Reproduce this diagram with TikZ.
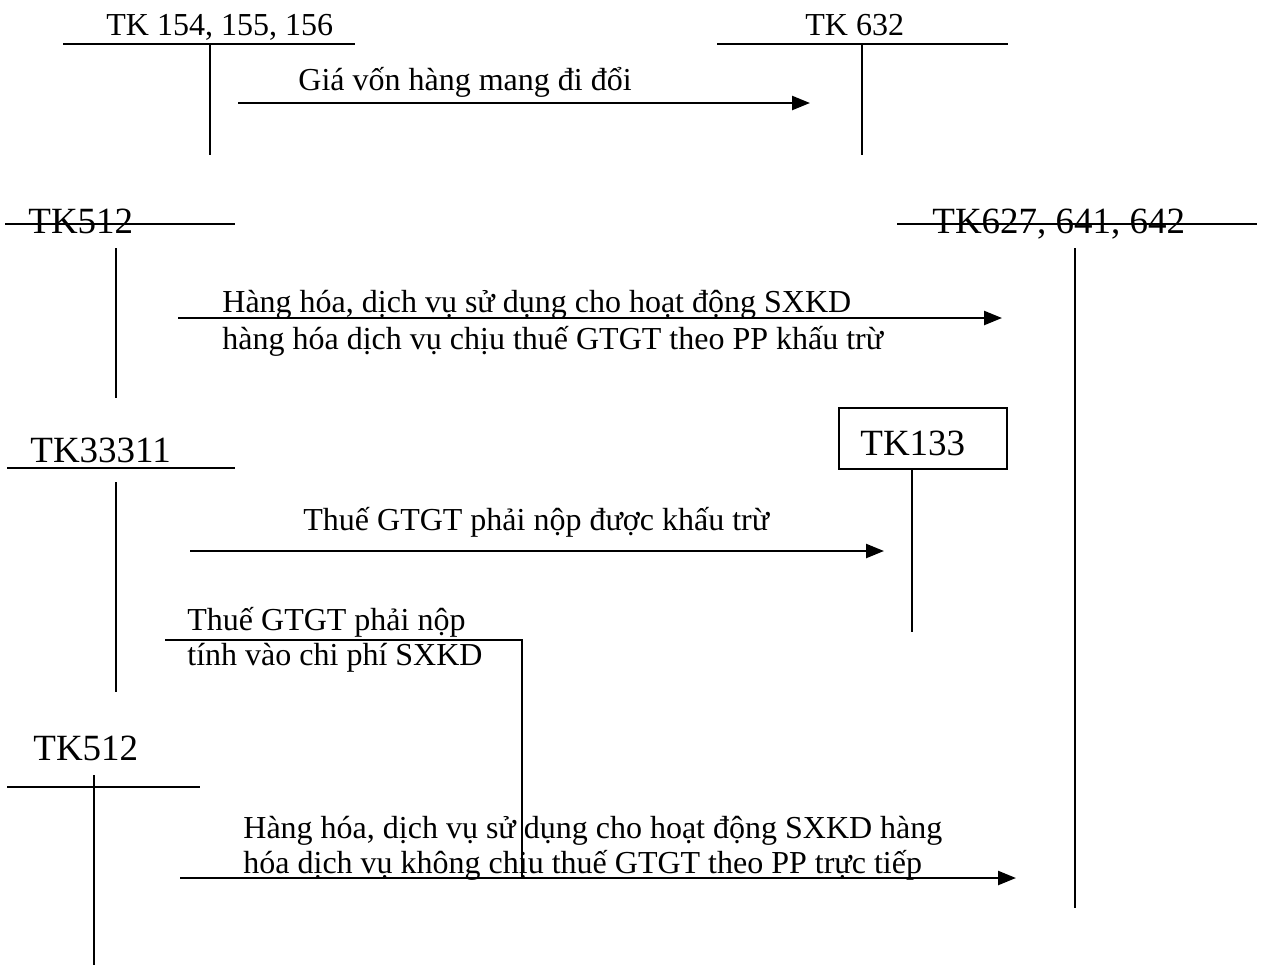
\documentclass[tikz,border=0pt]{standalone}
\usepackage{fontspec}
\setmainfont{Liberation Serif}
\usetikzlibrary{arrows.meta}
\begin{document}
\begin{tikzpicture}[x=0.5pt,y=-0.5pt,
  acc/.style={line width=0.8pt},
  flow/.style={line width=1.2pt,-{Triangle[length=9pt,width=7pt]}},
  plain/.style={line width=1pt},
  lbl/.style={anchor=base west,inner sep=0pt,font=\fontsize{16}{19}\selectfont},
  big/.style={anchor=base west,inner sep=0pt,font=\fontsize{18.5}{22}\selectfont}]
\useasboundingbox (0,0) rectangle (1264,965);

% TK 154,155,156
\node[lbl] (tk154) at (106,35) {TK 154, 155, 156};
\coordinate (a1l) at (63,44); \coordinate (a1r) at (355,44);
\coordinate (a1t) at (210,44); \coordinate (a1b) at (210,155);
\draw[acc] (a1l) -- (a1r); \draw[acc] (a1t) -- (a1b);

% TK 632
\node[lbl] (tk632) at (805,35) {TK 632};
\coordinate (a2l) at (717,44); \coordinate (a2r) at (1008,44);
\coordinate (a2t) at (862,44); \coordinate (a2b) at (862,155);
\draw[acc] (a2l) -- (a2r); \draw[acc] (a2t) -- (a2b);

% arrow 1
\coordinate (f1s) at (238,103); \coordinate (f1e) at (810,103);
\draw[flow] (f1s) -- (f1e);
\node[lbl] (l1) at (298,90) {Giá vốn hàng mang đi đổi};

% TK512 upper
\node[big] (tk512a) at (28,233) {TK512};
\coordinate (a3l) at (5,224); \coordinate (a3r) at (235,224);
\coordinate (a3t) at (116,248); \coordinate (a3b) at (116,398);
\draw[acc] (a3l) -- (a3r); \draw[acc] (a3t) -- (a3b);

% TK627
\node[big] (tk627) at (932,233) {TK627, 641, 642};
\coordinate (a4l) at (897,224); \coordinate (a4r) at (1257,224);
\coordinate (a4t) at (1075,248); \coordinate (a4b) at (1075,908);
\draw[acc] (a4l) -- (a4r); \draw[acc] (a4t) -- (a4b);

% arrow 2
\coordinate (f2s) at (178,318); \coordinate (f2e) at (1002,318);
\draw[flow] (f2s) -- (f2e);
\node[lbl] (l2a) at (222,312) {Hàng hóa, dịch vụ sử dụng cho hoạt động SXKD};
\node[lbl] (l2b) at (222,349) {hàng hóa dịch vụ chịu thuế GTGT theo PP khấu trừ};

% TK33311
\node[big] (tk333) at (30,462) {TK33311};
\coordinate (a5l) at (7,468); \coordinate (a5r) at (235,468);
\coordinate (a5t) at (116,482); \coordinate (a5b) at (116,692);
\draw[acc] (a5l) -- (a5r); \draw[acc] (a5t) -- (a5b);

% TK133
\node[draw,line width=0.8pt,minimum width=84pt,minimum height=30.5pt,inner sep=0pt] (box133) at (923,438.5) {};
\node[big] (tk133) at (860,455) {TK133};
\coordinate (a6t) at (912,469); \coordinate (a6b) at (912,632);
\draw[acc] (a6t) -- (a6b);

% arrow 3
\coordinate (f3s) at (190,551); \coordinate (f3e) at (884,551);
\draw[flow] (f3s) -- (f3e);
\node[lbl] (l3) at (303,530) {Thuế GTGT phải nộp được khấu trừ};

% connector from TK33311 down to arrow 4
\node[lbl] (l4a) at (187,630) {Thuế GTGT phải nộp};
\node[lbl] (l4b) at (187,665) {tính vào chi phí SXKD};
\coordinate (c1) at (165,640); \coordinate (c2) at (522,640); \coordinate (c3) at (522,878);
\draw[plain] (c1) -- (c2) -- (c3);

% TK512 lower
\node[big] (tk512b) at (33,760) {TK512};
\coordinate (a7l) at (7,787); \coordinate (a7r) at (200,787);
\coordinate (a7t) at (94,775); \coordinate (a7b) at (94,965);
\draw[acc] (a7l) -- (a7r); \draw[acc] (a7t) -- (a7b);

% arrow 4
\coordinate (f4s) at (180,878); \coordinate (f4e) at (1016,878);
\draw[flow] (f4s) -- (f4e);
\node[lbl] (l5a) at (243,838) {Hàng hóa, dịch vụ sử dụng cho hoạt động SXKD hàng};
\node[lbl] (l5b) at (243,873) {hóa dịch vụ không chịu thuế GTGT theo PP trực tiếp};
\end{tikzpicture}
\end{document}
